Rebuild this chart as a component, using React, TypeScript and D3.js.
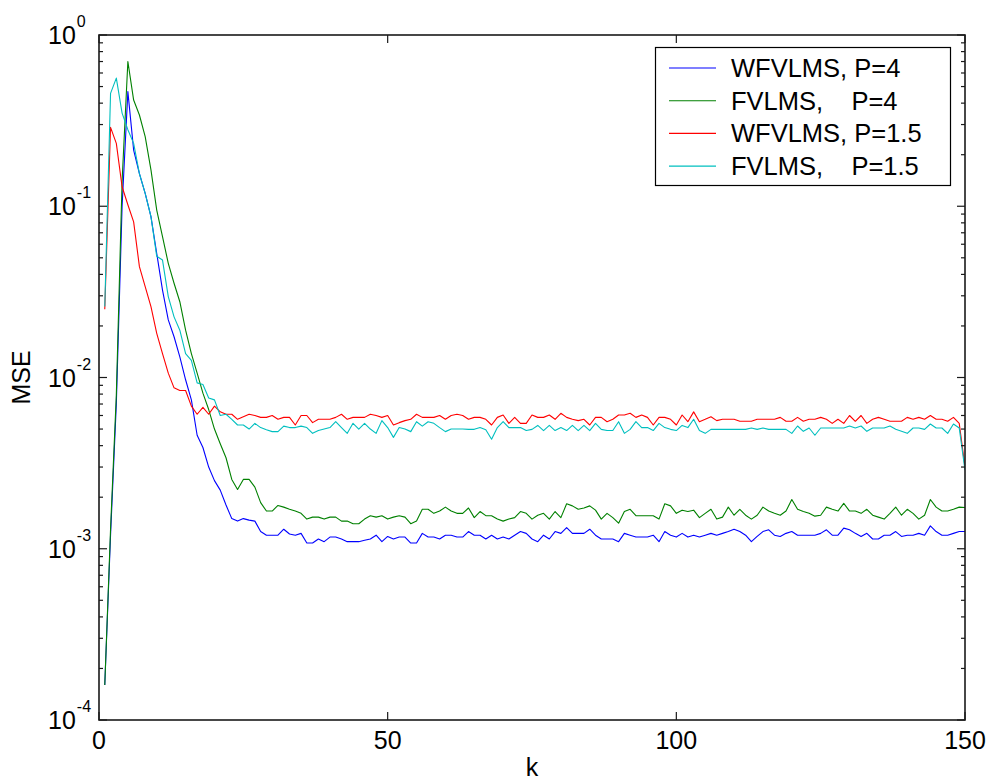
import React, { useEffect, useRef } from 'react';
import * as d3 from 'd3';

// MSE per iteration k = 1..150
const wfvlmsP4 = [
  1.6e-4, 1.2e-3, 7e-3, 0.1, 0.467, 0.213, 0.155, 0.119, 0.087, 0.053,
  0.0324, 0.0217, 0.0173, 0.0132, 0.0097, 0.0074, 0.0046, 0.0039, 0.003, 0.0025,
  0.0022, 0.0018, 0.0015, 0.00145, 0.0015, 0.00147, 0.00145, 0.00126, 0.0012, 0.0012,
  0.0012, 0.0013, 0.00122, 0.0012, 0.00123, 0.00108, 0.00108, 0.00114, 0.0011, 0.00117,
  0.00117, 0.00114, 0.0011, 0.0011, 0.0011, 0.00112, 0.00114, 0.0012, 0.0011, 0.00118,
  0.00114, 0.00117, 0.00117, 0.00108, 0.00108, 0.00123, 0.00117, 0.00117, 0.00114, 0.0012,
  0.0012, 0.00117, 0.00117, 0.00126, 0.0012, 0.0012, 0.00114, 0.0012, 0.00114, 0.00117,
  0.00114, 0.0012, 0.00126, 0.00123, 0.00114, 0.0011, 0.0012, 0.00114, 0.00126, 0.00123,
  0.00133, 0.00123, 0.00123, 0.00123, 0.0013, 0.0012, 0.00114, 0.00114, 0.00114, 0.0011,
  0.00123, 0.0012, 0.00117, 0.00117, 0.00117, 0.0012, 0.0011, 0.00126, 0.0012, 0.00117,
  0.00123, 0.00117, 0.0012, 0.00117, 0.0012, 0.00123, 0.0012, 0.00123, 0.00126, 0.0013,
  0.00126, 0.0012, 0.0011, 0.00118, 0.00126, 0.00129, 0.0012, 0.00118, 0.00123, 0.00126,
  0.0012, 0.0012, 0.0012, 0.0012, 0.00123, 0.00129, 0.0012, 0.0012, 0.00132, 0.00129,
  0.00123, 0.00118, 0.00123, 0.00114, 0.00114, 0.0012, 0.0012, 0.00126, 0.00118, 0.0012,
  0.0012, 0.00123, 0.0012, 0.00136, 0.00126, 0.0012, 0.0012, 0.00123, 0.00126, 0.00126,
];

const fvlmsP4 = [
  1.6e-4, 1.3e-3, 0.0079, 0.14, 0.7, 0.417, 0.341, 0.255, 0.163, 0.095,
  0.0664, 0.0464, 0.0355, 0.0277, 0.0189, 0.0138, 0.0106, 0.0081, 0.0065, 0.005,
  0.0041, 0.0034, 0.00254, 0.00222, 0.00254, 0.00254, 0.00229, 0.00186, 0.00166, 0.00166,
  0.00179, 0.00175, 0.0017, 0.00166, 0.00161, 0.00149, 0.00153, 0.00153, 0.00149, 0.00153,
  0.00153, 0.00145, 0.00145, 0.0014, 0.0014, 0.00149, 0.00156, 0.00153, 0.00156, 0.00149,
  0.00153, 0.00156, 0.00153, 0.0014, 0.00145, 0.0017, 0.0017, 0.00161, 0.00166, 0.00175,
  0.00166, 0.00161, 0.00161, 0.00173, 0.00152, 0.00165, 0.00156, 0.00156, 0.00149, 0.00145,
  0.00149, 0.00152, 0.00165, 0.00161, 0.00149, 0.00157, 0.00161, 0.00149, 0.00165, 0.00152,
  0.00183, 0.00178, 0.0017, 0.00173, 0.00178, 0.00168, 0.00149, 0.00161, 0.00152, 0.00141,
  0.00165, 0.0017, 0.00156, 0.00156, 0.00156, 0.00156, 0.00149, 0.00183, 0.00178, 0.00161,
  0.00168, 0.00165, 0.00168, 0.00152, 0.00161, 0.0017, 0.00149, 0.00153, 0.00175, 0.00157,
  0.0017, 0.00157, 0.00149, 0.00157, 0.00175, 0.00166, 0.00161, 0.00157, 0.00166, 0.00194,
  0.0017, 0.00165, 0.00161, 0.00155, 0.00157, 0.00175, 0.0017, 0.00166, 0.00184, 0.00166,
  0.00166, 0.00161, 0.0017, 0.00157, 0.00153, 0.00149, 0.00161, 0.00175, 0.00157, 0.0017,
  0.00161, 0.00149, 0.00157, 0.00194, 0.00175, 0.00166, 0.00166, 0.0017, 0.00175, 0.00174,
];

const wfvlmsP15 = [
  0.025, 0.289, 0.233, 0.13, 0.102, 0.081, 0.0444, 0.0339, 0.0259, 0.0181,
  0.0138, 0.0106, 0.0087, 0.0084, 0.0084, 0.0068, 0.0061, 0.0067, 0.0061, 0.0068,
  0.0063, 0.0061, 0.0061, 0.0057, 0.0059, 0.0061, 0.006, 0.00585, 0.00585, 0.006,
  0.0057, 0.00585, 0.00585, 0.00528, 0.006, 0.006, 0.00545, 0.0057, 0.0057, 0.0057,
  0.00585, 0.0061, 0.0057, 0.00585, 0.00585, 0.00585, 0.0061, 0.006, 0.00585, 0.006,
  0.00528, 0.00545, 0.0056, 0.0057, 0.0061, 0.00585, 0.00585, 0.00585, 0.006, 0.0057,
  0.006, 0.0061, 0.006, 0.0057, 0.00585, 0.00585, 0.0057, 0.00528, 0.00585, 0.00604,
  0.0054, 0.00585, 0.0054, 0.0054, 0.00604, 0.00585, 0.00585, 0.00604, 0.0057, 0.00618,
  0.00585, 0.0057, 0.0056, 0.0057, 0.00528, 0.00585, 0.00585, 0.00552, 0.0057, 0.00604,
  0.00604, 0.00618, 0.00585, 0.00604, 0.00585, 0.00528, 0.00585, 0.00585, 0.0057, 0.00528,
  0.00604, 0.00552, 0.0063, 0.00552, 0.0057, 0.0059, 0.0056, 0.0057, 0.0057, 0.0057,
  0.00555, 0.00555, 0.00555, 0.0057, 0.0057, 0.0057, 0.0057, 0.00585, 0.00555, 0.00555,
  0.00585, 0.00555, 0.0057, 0.0057, 0.00585, 0.0057, 0.0054, 0.0057, 0.0054, 0.006,
  0.00555, 0.006, 0.0054, 0.0057, 0.00585, 0.0057, 0.00555, 0.00555, 0.00555, 0.00585,
  0.0057, 0.00585, 0.0057, 0.006, 0.0057, 0.0057, 0.00555, 0.00585, 0.0054, 0.003,
];

const fvlmsP15 = [
  0.026, 0.456, 0.56, 0.35, 0.28, 0.233, 0.155, 0.119, 0.087, 0.051,
  0.0485, 0.0297, 0.0226, 0.0189, 0.0138, 0.0126, 0.0093, 0.0091, 0.0076, 0.0074,
  0.006, 0.0061, 0.0057, 0.00528, 0.00528, 0.005, 0.0054, 0.0051, 0.00495, 0.00483,
  0.00483, 0.0052, 0.0051, 0.0051, 0.0052, 0.0051, 0.00472, 0.0049, 0.005, 0.0051,
  0.00552, 0.0051, 0.00472, 0.0054, 0.005, 0.0054, 0.005, 0.00472, 0.0056, 0.0051,
  0.00447, 0.0051, 0.005, 0.00483, 0.00552, 0.0052, 0.00552, 0.0054, 0.0051, 0.00483,
  0.005, 0.005, 0.005, 0.00498, 0.00498, 0.0051, 0.00495, 0.00436, 0.0051, 0.00552,
  0.0051, 0.0051, 0.0051, 0.0049, 0.00498, 0.00525, 0.0049, 0.00525, 0.0049, 0.0051,
  0.0049, 0.00525, 0.0049, 0.00525, 0.0049, 0.0054, 0.00498, 0.0049, 0.0049, 0.00552,
  0.00472, 0.00498, 0.00552, 0.0051, 0.0051, 0.0049, 0.0054, 0.0051, 0.00498, 0.0049,
  0.00525, 0.0051, 0.0057, 0.0049, 0.00472, 0.00498, 0.00498, 0.00498, 0.00498, 0.00498,
  0.00498, 0.00498, 0.00507, 0.00498, 0.00507, 0.00498, 0.00498, 0.00498, 0.00498, 0.00472,
  0.00521, 0.00485, 0.00507, 0.0046, 0.00507, 0.00507, 0.00507, 0.00507, 0.00507, 0.00521,
  0.00507, 0.00521, 0.00485, 0.00507, 0.00507, 0.00507, 0.00521, 0.00498, 0.00485, 0.00472,
  0.00507, 0.00507, 0.00498, 0.00535, 0.00507, 0.00507, 0.00472, 0.00535, 0.00507, 0.00288,
];

const seriesData = [wfvlmsP4, fvlmsP4, wfvlmsP15, fvlmsP15];
const seriesNames = ['WFVLMS, P=4', 'FVLMS,    P=4', 'WFVLMS, P=1.5', 'FVLMS,    P=1.5'];
const seriesColors = ['#0000ff', '#008000', '#ff0000', '#00bfbf'];

const xTicks = [0, 50, 100, 150];
const yTicks = [1e-4, 1e-3, 1e-2, 1e-1, 1];
const yExponents = ['-4', '-3', '-2', '-1', '0'];

const FONT = "'Liberation Sans', Arial, Helvetica, sans-serif";

const MseChart = () => {
  const svgRef = useRef<SVGSVGElement>(null);

  useEffect(() => {
    const svg = d3.select(svgRef.current);
    svg.selectAll('*').remove();

    const width = 987;
    const height = 782;
    const margin = { top: 35, right: 22, bottom: 62, left: 99 };
    const x0 = margin.left;
    const x1 = width - margin.right;
    const y0 = height - margin.bottom;
    const y1 = margin.top;

    const x = d3.scaleLinear().domain([0, 150]).range([x0, x1]);
    const y = d3.scaleLog().domain([1e-4, 1]).range([y0, y1]);

    svg.attr('width', width).attr('height', height).style('background', 'white');

    // data lines (clipped to plot area)
    svg
      .append('clipPath')
      .attr('id', 'plot-clip')
      .append('rect')
      .attr('x', x0)
      .attr('y', y1)
      .attr('width', x1 - x0)
      .attr('height', y0 - y1);

    const line = d3
      .line<number>()
      .x((_, i) => x(i + 1))
      .y((d) => y(d));

    const lines = svg.append('g').attr('clip-path', 'url(#plot-clip)');
    seriesData.forEach((s, i) => {
      lines
        .append('path')
        .attr('d', line(s))
        .attr('fill', 'none')
        .attr('stroke', seriesColors[i])
        .attr('stroke-width', 1.1)
        .attr('stroke-linejoin', 'round');
    });

    const axes = svg.append('g').attr('stroke', '#1a1a1a').attr('stroke-width', 1.2);

    // y ticks, major and minor, on both sides
    const minor: number[] = [];
    for (let e = -4; e < 0; e++) {
      for (let m = 2; m <= 9; m++) minor.push(m * Math.pow(10, e));
    }
    yTicks.forEach((t) => {
      axes.append('line').attr('x1', x0).attr('x2', x0 + 8).attr('y1', y(t)).attr('y2', y(t));
      axes.append('line').attr('x1', x1).attr('x2', x1 - 8).attr('y1', y(t)).attr('y2', y(t));
    });
    minor.forEach((t) => {
      axes.append('line').attr('x1', x0).attr('x2', x0 + 4).attr('y1', y(t)).attr('y2', y(t));
      axes.append('line').attr('x1', x1).attr('x2', x1 - 4).attr('y1', y(t)).attr('y2', y(t));
    });

    // x ticks top and bottom
    xTicks.forEach((t) => {
      axes.append('line').attr('x1', x(t)).attr('x2', x(t)).attr('y1', y0).attr('y2', y0 - 8);
      axes.append('line').attr('x1', x(t)).attr('x2', x(t)).attr('y1', y1).attr('y2', y1 + 8);
    });

    // box
    axes
      .append('rect')
      .attr('x', x0)
      .attr('y', y1)
      .attr('width', x1 - x0)
      .attr('height', y0 - y1)
      .attr('fill', 'none')
      .attr('stroke-width', 1.6);

    // tick labels
    const labels = svg.append('g').attr('font-family', FONT).attr('fill', '#000');
    xTicks.forEach((t) => {
      labels
        .append('text')
        .attr('x', x(t))
        .attr('y', y0 + 29)
        .attr('text-anchor', 'middle')
        .attr('font-size', 25)
        .text(t);
    });
    yTicks.forEach((t, i) => {
      const txt = labels
        .append('text')
        .attr('x', 48)
        .attr('y', y(t) + 9)
        .attr('font-size', 25);
      txt.append('tspan').text('10');
      txt
        .append('tspan')
        .attr('dy', -17)
        .attr('dx', 1)
        .attr('font-size', 16)
        .text(yExponents[i]);
    });

    // axis titles
    labels
      .append('text')
      .attr('x', (x0 + x1) / 2)
      .attr('y', 776)
      .attr('text-anchor', 'middle')
      .attr('font-size', 25)
      .text('k');
    labels
      .append('text')
      .attr('transform', `translate(30,${(y0 + y1) / 2}) rotate(-90)`)
      .attr('text-anchor', 'middle')
      .attr('font-size', 25)
      .text('MSE');

    // legend
    const legend = svg.append('g');
    legend
      .append('rect')
      .attr('x', 655.5)
      .attr('y', 47.5)
      .attr('width', 295)
      .attr('height', 138)
      .attr('fill', 'white')
      .attr('stroke', '#000')
      .attr('stroke-width', 1.2);
    seriesNames.forEach((name, i) => {
      const ry = 68 + i * 32.7;
      legend
        .append('line')
        .attr('x1', 669)
        .attr('x2', 716)
        .attr('y1', ry)
        .attr('y2', ry)
        .attr('stroke', seriesColors[i])
        .attr('stroke-width', 1.1);
      legend
        .append('text')
        .attr('x', 731)
        .attr('y', ry + 9)
        .attr('font-family', FONT)
        .attr('font-size', 25.5)
        .style('white-space', 'pre')
        .text(name);
    });
  }, []);

  return <svg ref={svgRef} style={{ position: 'absolute', left: 0, top: 0 }} />;
};

export default function App() {
  return <MseChart />;
}
